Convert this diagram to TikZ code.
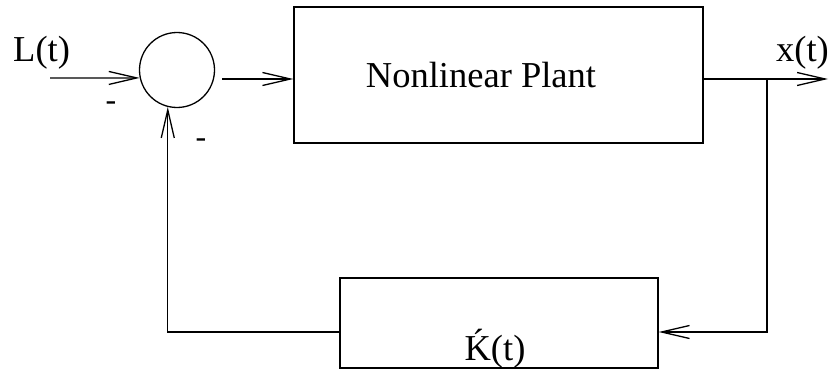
\documentclass[tikz,border=0pt]{standalone}
\usepackage{fontspec}
\setmainfont{Liberation Serif}
\usetikzlibrary{arrows.meta}
\begin{document}
\begin{tikzpicture}[x=1pt,y=-1pt,
  ln/.style={line width=1.3pt},
  arr/.style={ln,-{Straight Barb[length=28pt,width=13pt,line width=1.3pt]}},
  blk/.style={draw,line width=1.3pt,rectangle,inner sep=0pt},
  lbl/.style={font=\fontsize{36.5}{42}\selectfont,inner sep=0pt},
  minus/.style={font=\fontsize{32}{36}\selectfont,inner sep=0pt}]
\useasboundingbox (0,0) rectangle (830,369);
% nodes
\node[draw,circle,line width=1.3pt,minimum size=75pt,inner sep=0pt] (sum) at (177,70) {};
\node[blk,minimum width=409pt,minimum height=136pt] (plant) at (498.5,75) {};
\node[lbl,anchor=base] (plantlbl) at (481,88) {Nonlinear Plant};
\node[blk,minimum width=318pt,minimum height=90pt] (kbox) at (499,323) {};
\node[lbl,anchor=base] (klbl) at (495,360) {\'K(t)};
\node[lbl,anchor=base west] (L) at (13,62) {L(t)};
\node[lbl,anchor=base east] (x) at (829,62) {x(t)};
\node[minus] (m1) at (111,106) {-};
\node[minus] (m2) at (201,143) {-};
% coordinates
\coordinate (in) at (50,78);
\coordinate (s1) at (222,79);
\coordinate (out) at (828,79);
\coordinate (br) at (767,79);
\coordinate (fb) at (0,332);
% connectors
\draw[arr] (in) -- (sum.192);
\draw[arr] (s1) -- (plant.west |- s1);
\draw[arr] (plant.east |- out) -- (out);
\draw[arr] (br) |- (kbox.east |- fb);
\draw[arr] (kbox.west |- fb) -| (sum.256);
\end{tikzpicture}
\end{document}
